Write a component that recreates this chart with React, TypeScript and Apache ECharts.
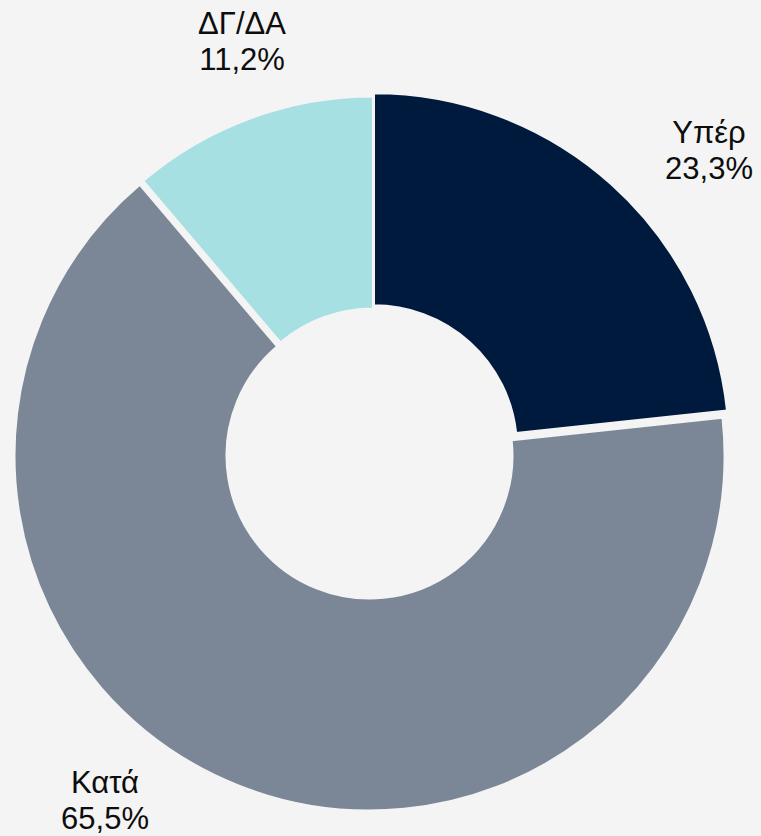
import React, { useEffect, useRef } from "react";
import * as echarts from "echarts";

const categories = ["Υπέρ", "Κατά", "ΔΓ/ΔΑ"];
const values = [23.3, 65.5, 11.2];
const colors = ["#001a3d", "#7b8797", "#a6e0e2"];
// layout only: each slice is slightly exploded, as in the original
const sliceCenters: [number, number][] = [
  [374, 448.3],
  [369.5, 455.5],
  [373, 451.5],
];
const drawOrder = [1, 2, 0];
const labelX = [709, 105, 242];
const labelY = [150, 800, 41];

export default function App() {
  const ref = useRef<HTMLDivElement>(null);
  useEffect(() => {
    if (!ref.current) return;
    const chart = echarts.init(ref.current, null, { renderer: "svg" });
    const series = drawOrder.map((k) => ({
      type: "pie",
      center: sliceCenters[k],
      radius: [143, 355],
      startAngle: 90,
      clockwise: true,
      avoidLabelOverlap: false,
      emphasis: { disabled: true },
      silent: true,
      label: {
        show: true,
        position: "outside",
        color: "#0d0d0d",
        fontSize: 31,
        lineHeight: 36,
        fontFamily: "'Liberation Sans', Arial, sans-serif",
        align: "center",
        formatter: (p: any) =>
          p.name + "\n" + Number(p.value).toFixed(1).replace(".", ",") + "%",
      },
      labelLine: { show: false },
      labelLayout: (params: any) => ({
        x: labelX[params.dataIndex],
        y: labelY[params.dataIndex],
        align: "center",
        verticalAlign: "middle",
      }),
      data: categories.map((name, i) => ({
        name,
        value: values[i],
        itemStyle:
          i === k
            ? { color: colors[i], borderColor: "#f4f4f4", borderWidth: 2 }
            : { color: "transparent", borderWidth: 0 },
        label: { show: i === k },
      })),
    }));
    chart.setOption({
      animation: false,
      backgroundColor: "#f4f4f4",
      series,
    });
    return () => chart.dispose();
  }, []);
  return (
    <div
      ref={ref}
      style={{ position: "fixed", left: 0, top: 0, width: 761, height: 836 }}
    />
  );
}
